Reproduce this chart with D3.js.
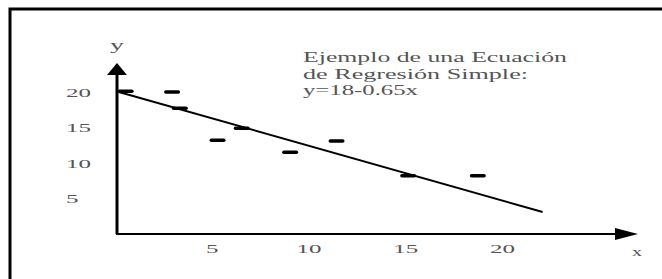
<!DOCTYPE html>
<html>
<head>
<meta charset="utf-8">
<script src="https://cdn.jsdelivr.net/npm/d3@7"></script>
<style>
  body { margin: 0; background: #fff; }
  svg { display: block; }
  text { font-family: "Liberation Serif", "DejaVu Serif", serif; fill: #555; }
</style>
</head>
<body>
<div id="chart"></div>
<script>
// Data
var xTicks = [5, 10, 15, 20];
var yTicks = [5, 10, 15, 20];
var obsX = [0.55, 2.95, 3.35, 6.55, 5.3, 9.05, 11.45, 15.15, 18.75];
var obsY = [20.1, 20.0, 17.7, 14.9, 13.2, 11.5, 13.1, 8.2, 8.2];
var fitX = [0.2, 22.1];
var fitY = [20.0, 3.1];
var noteLines = ["Ejemplo de una Ecuación", "de Regresión Simple:", "y=18-0.65x"];
var noteWidths = [264, 225, 115];

var width = 662, height = 279;

var svg = d3.select("#chart").append("svg")
	.attr("width", width)
	.attr("height", height);

// scales (image is stretched sideways, so x units are wide)
var x = d3.scaleLinear().domain([0, 20]).range([115, 502]);
var y = d3.scaleLinear().domain([0, 20]).range([234, 92]);

// frame: only top and left edges show
svg.append("path")
	.attr("d", "M10,279 L10,9 L662,9")
	.style("fill", "none")
	.style("stroke", "#000")
	.style("stroke-width", 3);

// axes
svg.append("line")
	.attr("x1", x(0) + 2).attr("x2", x(0) + 2)
	.attr("y1", y(0)).attr("y2", 74)
	.style("stroke", "#000").style("stroke-width", 3);
svg.append("line")
	.attr("x1", x(0) + 1).attr("x2", 616)
	.attr("y1", y(0)).attr("y2", y(0))
	.style("stroke", "#000").style("stroke-width", 2);

// arrow heads
svg.append("path")
	.attr("d", "M" + (x(0) + 2) + ",63 L" + (x(0) + 12) + ",75 L" + (x(0) - 8) + ",75 Z")
	.style("fill", "#000");
svg.append("path")
	.attr("d", "M638," + y(0) + " L615," + (y(0) - 6) + " L615," + (y(0) + 6) + " Z")
	.style("fill", "#000");

// tick labels through d3 axes
var gx = svg.append("g")
	.attr("transform", "translate(0," + (y(0) + 19) + ")")
	.call(d3.axisBottom(x).tickValues(xTicks).tickSize(0).tickPadding(0));
gx.select(".domain").remove();
gx.selectAll("text")
	.attr("y", 0)
	.attr("dy", 0)
	.style("font-size", "12px")
	.style("font-family", "'Liberation Serif', serif")
	.attr("fill", "#555")
	.attr("textLength", function(d) { return String(d).length * 12.5; })
	.attr("lengthAdjust", "spacingAndGlyphs");

var gy = svg.append("g")
	.attr("transform", "translate(66,0)")
	.call(d3.axisLeft(y).tickValues(yTicks).tickSize(0).tickPadding(0));
gy.select(".domain").remove();
gy.selectAll("text")
	.attr("x", 0)
	.attr("dy", "0.35em")
	.attr("text-anchor", "start")
	.style("font-size", "12px")
	.style("font-family", "'Liberation Serif', serif")
	.attr("fill", "#555")
	.attr("textLength", function(d) { return String(d).length * 12.5; })
	.attr("lengthAdjust", "spacingAndGlyphs");

// axis names
svg.append("text")
	.attr("x", x(0) + 2).attr("y", 50)
	.attr("text-anchor", "middle")
	.attr("textLength", 14)
	.attr("lengthAdjust", "spacingAndGlyphs")
	.style("font-size", "14px")
	.text("y");
svg.append("text")
	.attr("x", 637).attr("y", 256)
	.attr("text-anchor", "middle")
	.attr("textLength", 10)
	.attr("lengthAdjust", "spacingAndGlyphs")
	.style("font-size", "12px")
	.text("x");

// regression line
svg.append("line")
	.attr("x1", x(fitX[0])).attr("y1", y(fitY[0]))
	.attr("x2", x(fitX[1])).attr("y2", y(fitY[1]))
	.style("stroke", "#000")
	.style("stroke-width", 2);

// observations drawn as short dashes
svg.selectAll(".obs")
	.data(obsX)
	.enter()
	.append("rect")
		.attr("class", "obs")
		.attr("x", function(d) { return x(d) - 8; })
		.attr("y", function(d, i) { return y(obsY[i]) - 1.75; })
		.attr("width", 16)
		.attr("height", 3.5)
		.attr("rx", 1.75)
		.style("fill", "#000");

// note
svg.selectAll(".note")
	.data(noteLines)
	.enter()
	.append("text")
		.attr("class", "note")
		.attr("x", 303)
		.attr("y", function(d, i) { return 62 + i * 16.5; })
		.attr("textLength", function(d, i) { return noteWidths[i]; })
		.attr("lengthAdjust", "spacingAndGlyphs")
		.style("font-size", "15px")
		.text(function(d) { return d; });
</script>
</body>
</html>
